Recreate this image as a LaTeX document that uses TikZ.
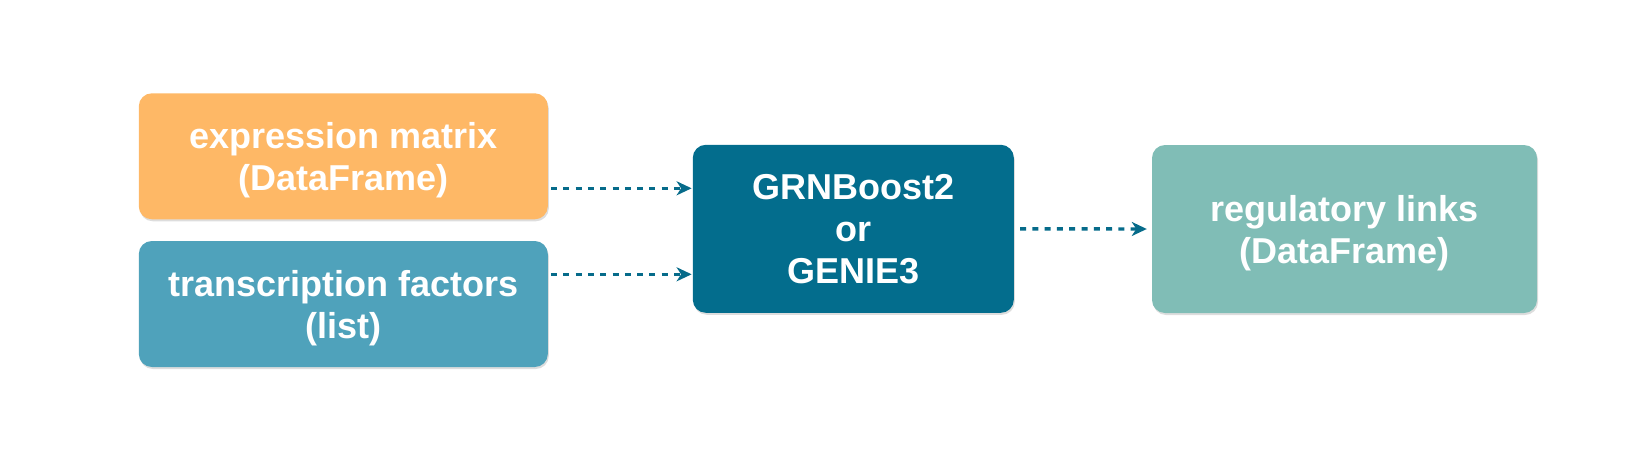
\documentclass[tikz,border=0pt]{standalone}
\usepackage{fontspec}
\setmainfont{Liberation Sans}
\usetikzlibrary{arrows.meta,shadows}
\definecolor{corange}{HTML}{FEB866}
\definecolor{cblue}{HTML}{4FA2BB}
\definecolor{cdark}{HTML}{036D8D}
\definecolor{clight}{HTML}{80BDB6}
\definecolor{carrow}{HTML}{066B8A}
\newcommand{\dnstrut}{\rule{0pt}{34pt}}
\begin{document}
\begin{tikzpicture}[x=1pt,y=-1pt,
  boxstyle/.style={rectangle, rounded corners=13pt, inner sep=0pt, align=center,
    text=white, font=\fontsize{36}{42}\selectfont\bfseries,
    drop shadow={shadow xshift=1pt, shadow yshift=-2pt, opacity=0.22, fill=black!60}},
  arr/.style={draw=carrow, line width=3.4pt, dash pattern=on 6pt off 6.3pt,
    -{Stealth[length=15pt,width=14pt,inset=4.5pt]}}]
\useasboundingbox (0,0) rectangle (1646,461);
\node[boxstyle, fill=corange, minimum width=409pt, minimum height=126pt] (a) at (343.3,156.3) {\dnstrut expression matrix\\(DataFrame)};
\node[boxstyle, fill=cblue, minimum width=409pt, minimum height=126pt] (b) at (343.3,304) {\dnstrut transcription factors\\(list)};
\node[boxstyle, fill=cdark, minimum width=321pt, minimum height=168pt] (m) at (853.3,228.8) {GRNBoost2\\or\\GENIE3};
\node[boxstyle, fill=clight, minimum width=385pt, minimum height=168pt] (r) at (1344.5,229) {\dnstrut regulatory links\\(DataFrame)};
\coordinate (m1) at ([yshift=40.5pt]m.west);
\coordinate (m2) at ([yshift=-45.5pt]m.west);
\draw[arr] ([xshift=3pt]a.east |- m1) -- ([xshift=-1pt]m1);
\draw[arr] ([xshift=3pt]b.east |- m2) -- ([xshift=-1pt]m2);
\draw[arr] ([xshift=6pt]m.east) -- ([xshift=-5pt]r.west);
\end{tikzpicture}
\end{document}
